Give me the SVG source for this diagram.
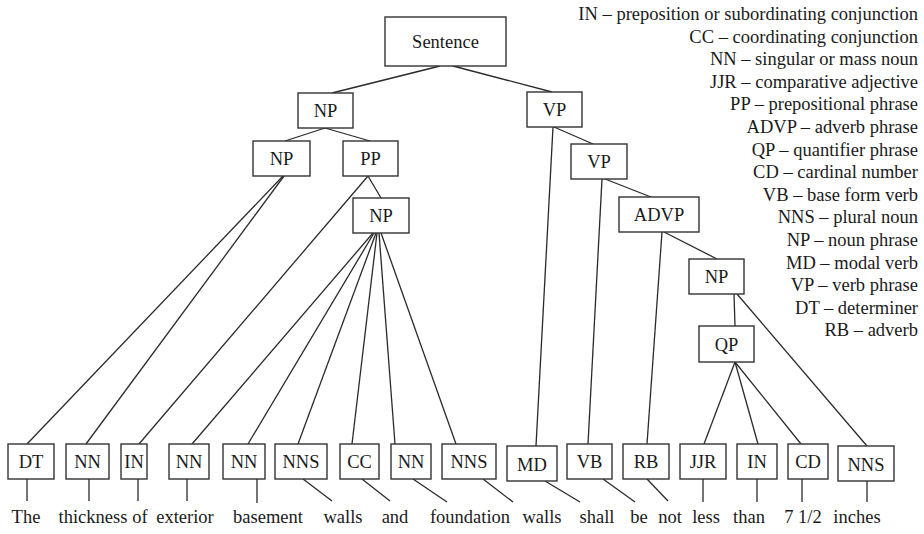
<svg xmlns="http://www.w3.org/2000/svg" width="924" height="534" viewBox="0 0 924 534">
<style>
text{font-family:'Liberation Serif',serif;font-size:18.5px;fill:#1a1a1a}
.lbl{text-anchor:middle}
.w{text-anchor:middle}
.leg{text-anchor:end}
.box{fill:#fff;stroke:#333;stroke-width:1.4}
#connectors line{stroke:#2a2a2a;stroke-width:1.3}
</style>
<rect x="0" y="0" width="924" height="534" style="fill:#fff;stroke:none"/>
<g id="connectors">
<line x1="440" y1="66" x2="332" y2="93"/>
<line x1="453" y1="66" x2="552" y2="92"/>
<line x1="325" y1="128" x2="285" y2="141"/>
<line x1="325" y1="128" x2="370" y2="141"/>
<line x1="283" y1="176" x2="27" y2="444"/>
<line x1="284" y1="176" x2="86" y2="444"/>
<line x1="368" y1="176" x2="139" y2="444"/>
<line x1="368" y1="176" x2="381" y2="198"/>
<line x1="373" y1="233" x2="192" y2="444"/>
<line x1="374" y1="233" x2="248" y2="444"/>
<line x1="376" y1="233" x2="298" y2="444"/>
<line x1="377" y1="233" x2="352" y2="444"/>
<line x1="379" y1="233" x2="395" y2="444"/>
<line x1="381" y1="233" x2="456" y2="444"/>
<line x1="553" y1="127" x2="536" y2="446"/>
<line x1="554" y1="127" x2="593" y2="144"/>
<line x1="602" y1="179" x2="588" y2="444"/>
<line x1="605" y1="179" x2="651" y2="197"/>
<line x1="662" y1="232" x2="647" y2="444"/>
<line x1="664" y1="232" x2="717" y2="259"/>
<line x1="734" y1="294" x2="735" y2="326"/>
<line x1="737" y1="294" x2="867" y2="446"/>
<line x1="735" y1="362" x2="704" y2="444"/>
<line x1="735" y1="362" x2="758" y2="444"/>
<line x1="735" y1="362" x2="801" y2="444"/>
<line x1="27" y1="479" x2="27" y2="501"/>
<line x1="89" y1="479" x2="89" y2="501"/>
<line x1="138" y1="479" x2="138" y2="501"/>
<line x1="187" y1="479" x2="187" y2="501"/>
<line x1="257" y1="479" x2="257" y2="503"/>
<line x1="303" y1="479" x2="332" y2="501"/>
<line x1="362" y1="479" x2="390" y2="501"/>
<line x1="413" y1="479" x2="447" y2="502"/>
<line x1="483" y1="479" x2="513" y2="502"/>
<line x1="545" y1="481" x2="580" y2="502"/>
<line x1="603" y1="479" x2="635" y2="502"/>
<line x1="647" y1="479" x2="668" y2="501"/>
<line x1="703" y1="479" x2="703" y2="502"/>
<line x1="757" y1="479" x2="757" y2="502"/>
<line x1="802" y1="479" x2="802" y2="502"/>
<line x1="867" y1="481" x2="867" y2="502"/>
</g>
<g id="n-sentence"><rect class="box" x="385" y="17" width="121" height="49"/><text class="lbl" x="445.5" y="48" style="font-family:'Liberation Serif',serif">Sentence</text></g>
<g id="n-np1"><rect class="box" x="298" y="93" width="55" height="35"/><text class="lbl" x="325.5" y="117" style="font-family:'Liberation Serif',serif">NP</text></g>
<g id="n-vp1"><rect class="box" x="527" y="92" width="55" height="35"/><text class="lbl" x="554.5" y="116" style="font-family:'Liberation Serif',serif">VP</text></g>
<g id="n-np2"><rect class="box" x="253" y="141" width="57" height="35"/><text class="lbl" x="281.5" y="165" style="font-family:'Liberation Serif',serif">NP</text></g>
<g id="n-pp"><rect class="box" x="343" y="141" width="55" height="35"/><text class="lbl" x="370.5" y="165" style="font-family:'Liberation Serif',serif">PP</text></g>
<g id="n-np3"><rect class="box" x="353" y="198" width="56" height="35"/><text class="lbl" x="381" y="222" style="font-family:'Liberation Serif',serif">NP</text></g>
<g id="n-vp2"><rect class="box" x="571" y="144" width="56" height="35"/><text class="lbl" x="599" y="168" style="font-family:'Liberation Serif',serif">VP</text></g>
<g id="n-advp"><rect class="box" x="619" y="197" width="80" height="35"/><text class="lbl" x="659" y="221" style="font-family:'Liberation Serif',serif">ADVP</text></g>
<g id="n-np4"><rect class="box" x="689" y="259" width="55" height="35"/><text class="lbl" x="716.5" y="283" style="font-family:'Liberation Serif',serif">NP</text></g>
<g id="n-qp"><rect class="box" x="699" y="326" width="55" height="36"/><text class="lbl" x="726.5" y="351" style="font-family:'Liberation Serif',serif">QP</text></g>
<g id="t-dt"><rect class="box" x="8" y="444" width="46" height="35"/><text class="lbl" x="31" y="468" style="font-family:'Liberation Serif',serif">DT</text></g>
<g id="t-nn1"><rect class="box" x="66" y="444" width="43" height="35"/><text class="lbl" x="87.5" y="468" style="font-family:'Liberation Serif',serif">NN</text></g>
<g id="t-in1"><rect class="box" x="121" y="444" width="26" height="35"/><text class="lbl" x="134" y="468" style="font-family:'Liberation Serif',serif">IN</text></g>
<g id="t-nn2"><rect class="box" x="169" y="444" width="40" height="35"/><text class="lbl" x="189" y="468" style="font-family:'Liberation Serif',serif">NN</text></g>
<g id="t-nn3"><rect class="box" x="223" y="444" width="42" height="35"/><text class="lbl" x="244" y="468" style="font-family:'Liberation Serif',serif">NN</text></g>
<g id="t-nns1"><rect class="box" x="275" y="444" width="52" height="35"/><text class="lbl" x="301" y="468" style="font-family:'Liberation Serif',serif">NNS</text></g>
<g id="t-cc"><rect class="box" x="340" y="444" width="39" height="35"/><text class="lbl" x="359.5" y="468" style="font-family:'Liberation Serif',serif">CC</text></g>
<g id="t-nn4"><rect class="box" x="391" y="444" width="40" height="35"/><text class="lbl" x="411" y="468" style="font-family:'Liberation Serif',serif">NN</text></g>
<g id="t-nns2"><rect class="box" x="442" y="444" width="54" height="35"/><text class="lbl" x="469" y="468" style="font-family:'Liberation Serif',serif">NNS</text></g>
<g id="t-md"><rect class="box" x="507" y="446" width="50" height="35"/><text class="lbl" x="532" y="471" style="font-family:'Liberation Serif',serif">MD</text></g>
<g id="t-vb"><rect class="box" x="567" y="444" width="45" height="35"/><text class="lbl" x="589.5" y="468" style="font-family:'Liberation Serif',serif">VB</text></g>
<g id="t-rb"><rect class="box" x="623" y="444" width="46" height="35"/><text class="lbl" x="646" y="468" style="font-family:'Liberation Serif',serif">RB</text></g>
<g id="t-jjr"><rect class="box" x="680" y="444" width="46" height="35"/><text class="lbl" x="703" y="468" style="font-family:'Liberation Serif',serif">JJR</text></g>
<g id="t-in2"><rect class="box" x="737" y="444" width="40" height="35"/><text class="lbl" x="757" y="468" style="font-family:'Liberation Serif',serif">IN</text></g>
<g id="t-cd"><rect class="box" x="788" y="444" width="40" height="35"/><text class="lbl" x="808" y="468" style="font-family:'Liberation Serif',serif">CD</text></g>
<g id="t-nns3"><rect class="box" x="838" y="446" width="56" height="35"/><text class="lbl" x="866" y="471" style="font-family:'Liberation Serif',serif">NNS</text></g>
<g id="words" style="font-family:'Liberation Serif',serif">
<text class="w" x="26" y="523" style="font-family:'Liberation Serif',serif">The</text>
<text class="w" x="93" y="523" style="font-family:'Liberation Serif',serif">thickness</text>
<text class="w" x="140" y="523" style="font-family:'Liberation Serif',serif">of</text>
<text class="w" x="185" y="523" style="font-family:'Liberation Serif',serif">exterior</text>
<text class="w" x="268" y="523" style="font-family:'Liberation Serif',serif">basement</text>
<text class="w" x="343" y="523" style="font-family:'Liberation Serif',serif">walls</text>
<text class="w" x="395" y="523" style="font-family:'Liberation Serif',serif">and</text>
<text class="w" x="470" y="523" style="font-family:'Liberation Serif',serif">foundation</text>
<text class="w" x="542" y="523" style="font-family:'Liberation Serif',serif">walls</text>
<text class="w" x="597" y="523" style="font-family:'Liberation Serif',serif">shall</text>
<text class="w" x="639" y="523" style="font-family:'Liberation Serif',serif">be</text>
<text class="w" x="670" y="523" style="font-family:'Liberation Serif',serif">not</text>
<text class="w" x="706" y="523" style="font-family:'Liberation Serif',serif">less</text>
<text class="w" x="749" y="523" style="font-family:'Liberation Serif',serif">than</text>
<text class="w" x="803" y="523" style="font-family:'Liberation Serif',serif">7 1/2</text>
<text class="w" x="857" y="523" style="font-family:'Liberation Serif',serif">inches</text>
</g>
<g id="legend">
<text class="leg" x="918" y="20" style="font-family:'Liberation Serif',serif">IN – preposition or subordinating conjunction</text>
<text class="leg" x="918" y="42.6" style="font-family:'Liberation Serif',serif">CC – coordinating conjunction</text>
<text class="leg" x="918" y="65.2" style="font-family:'Liberation Serif',serif">NN – singular or mass noun</text>
<text class="leg" x="918" y="87.8" style="font-family:'Liberation Serif',serif">JJR – comparative adjective</text>
<text class="leg" x="918" y="110.4" style="font-family:'Liberation Serif',serif">PP – prepositional phrase</text>
<text class="leg" x="918" y="133" style="font-family:'Liberation Serif',serif">ADVP – adverb phrase</text>
<text class="leg" x="918" y="155.6" style="font-family:'Liberation Serif',serif">QP – quantifier phrase</text>
<text class="leg" x="918" y="178.2" style="font-family:'Liberation Serif',serif">CD – cardinal number</text>
<text class="leg" x="918" y="200.8" style="font-family:'Liberation Serif',serif">VB – base form verb</text>
<text class="leg" x="918" y="223.4" style="font-family:'Liberation Serif',serif">NNS – plural noun</text>
<text class="leg" x="918" y="246" style="font-family:'Liberation Serif',serif">NP – noun phrase</text>
<text class="leg" x="918" y="268.6" style="font-family:'Liberation Serif',serif">MD – modal verb</text>
<text class="leg" x="918" y="291.2" style="font-family:'Liberation Serif',serif">VP – verb phrase</text>
<text class="leg" x="918" y="313.8" style="font-family:'Liberation Serif',serif">DT – determiner</text>
<text class="leg" x="918" y="336.4" style="font-family:'Liberation Serif',serif">RB – adverb</text>
</g>
</svg>
